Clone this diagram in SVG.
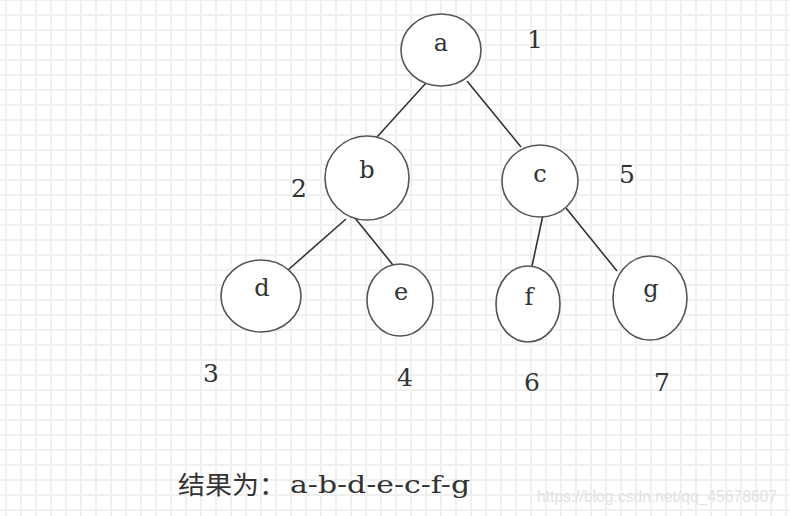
<svg xmlns="http://www.w3.org/2000/svg" width="790" height="516" viewBox="0 0 790 516">
<defs>
<pattern id="grid" x="5" y="14" width="15" height="15" patternUnits="userSpaceOnUse">
<rect x="0" y="0" width="2" height="15" fill="#f0f0f0"/>
<rect x="0" y="0" width="15" height="2" fill="#f0f0f0"/>
</pattern>
</defs>
<style>
.node ellipse { fill: #ffffff; stroke: #555555; stroke-width: 1.6; }
.lbl { font-family: "DejaVu Serif", "Liberation Serif", serif; font-size: 24px; fill: #333333; text-anchor: middle; }
.num { font-family: "DejaVu Serif", "Liberation Serif", serif; font-size: 25px; fill: #333333; text-anchor: middle; }
#edges line { stroke: #333333; stroke-width: 1.6; }
</style>
<rect width="790" height="516" fill="#ffffff"/>
<rect width="790" height="516" fill="url(#grid)"/>

<g id="edges">
<line x1="426" y1="83" x2="377" y2="137"/>
<line x1="467" y1="81" x2="521" y2="147"/>
<line x1="346" y1="219" x2="288" y2="270"/>
<line x1="355" y1="218" x2="393" y2="265"/>
<line x1="543" y1="215" x2="532" y2="266"/>
<line x1="566" y1="208" x2="617" y2="271"/>
</g>

<g id="node-a" class="node"><ellipse cx="441" cy="50" rx="40" ry="36"/><text class="lbl" x="441" y="51">a</text></g>
<g id="node-b" class="node"><ellipse cx="367" cy="178" rx="42" ry="42"/><text class="lbl" x="367" y="178">b</text></g>
<g id="node-c" class="node"><ellipse cx="540" cy="181" rx="38" ry="36"/><text class="lbl" x="540" y="182">c</text></g>
<g id="node-d" class="node"><ellipse cx="261" cy="296" rx="40" ry="36"/><text class="lbl" x="262" y="296">d</text></g>
<g id="node-e" class="node"><ellipse cx="400" cy="300" rx="33" ry="36"/><text class="lbl" x="401" y="300">e</text></g>
<g id="node-f" class="node"><ellipse cx="528" cy="304" rx="32" ry="38"/><text class="lbl" x="529" y="305">f</text></g>
<g id="node-g" class="node"><ellipse cx="650" cy="298" rx="37" ry="42"/><text class="lbl" x="651" y="297">g</text></g>

<g id="numbers">
<text class="num" x="535" y="48">1</text>
<text class="num" x="299" y="197">2</text>
<text class="num" x="211" y="382">3</text>
<text class="num" x="405" y="386">4</text>
<text class="num" x="627" y="183">5</text>
<text class="num" x="532" y="391">6</text>
<text class="num" x="662" y="391">7</text>
</g>

<g id="result">
<text x="178" y="494" font-family="'Noto Sans CJK SC', sans-serif" font-size="25" fill="#333333" textLength="108" lengthAdjust="spacingAndGlyphs">结果为：</text>
<text x="290" y="493" font-family="'DejaVu Serif', 'Liberation Serif', serif" font-size="24" fill="#333333" textLength="180" lengthAdjust="spacingAndGlyphs">a-b-d-e-c-f-g</text>
</g>

<text x="537" y="502" font-family="'Liberation Sans', Arial, sans-serif" font-size="17" fill="#e2e2e2" textLength="240" lengthAdjust="spacingAndGlyphs">https://blog.csdn.net/qq_45678607</text>
</svg>
